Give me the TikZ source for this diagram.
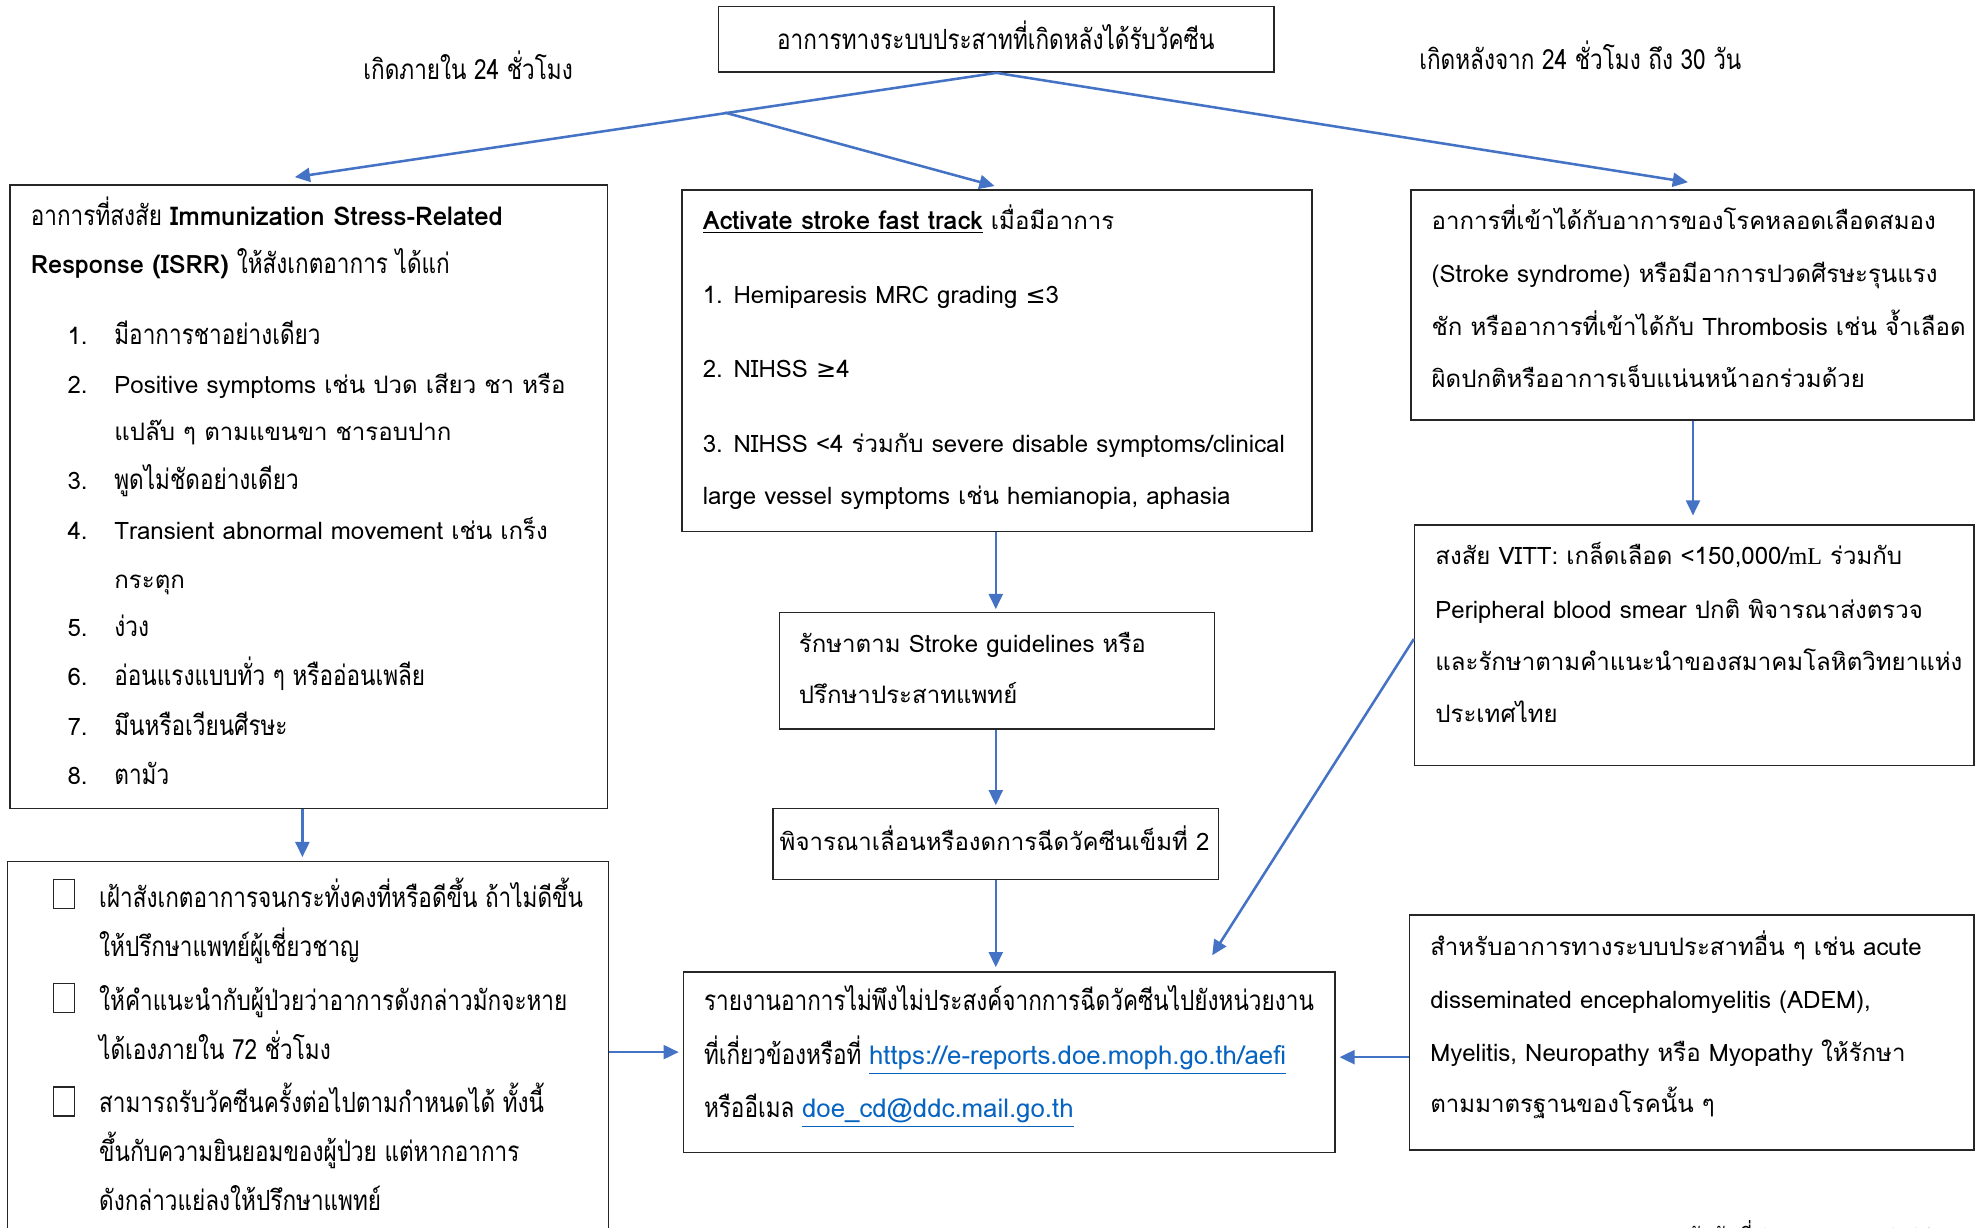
\documentclass[tikz,border=0pt]{standalone}
\usepackage{fontspec}
\setmainfont[Script=Thai]{Loma}
\newfontfamily\condfont[Script=Thai,FakeStretch=0.81]{Loma}
\newfontfamily\symfont{DejaVu Sans}
\newfontfamily\serfont{Liberation Serif}
\newcommand\cf{\condfont\fontsize{11}{13}\selectfont}
\newcommand\lk[1]{{\rmfamily\fontsize{10.2}{12}\selectfont\color{linkblue}\underline{#1}}}
\usetikzlibrary{arrows.meta,fit,calc}
\definecolor{arrblue}{HTML}{4472C4}
\definecolor{linkblue}{HTML}{0563C1}
\begin{document}
\begin{tikzpicture}[x=0.5pt,y=-0.5pt,
  box/.style={draw=black!85, line width=0.6pt, inner sep=0pt},
  tl/.style={anchor=base west, inner sep=0pt, font=\fontsize{9.5}{11}\selectfont},
  cl/.style={anchor=base west, inner sep=0pt, font=\cf},
  cc/.style={anchor=base, inner sep=0pt, font=\cf},
  chk/.style={draw=black!85, line width=0.5pt},
  arr/.style={draw=arrblue, line width=1pt, -{Triangle[length=6pt,width=5.5pt]}}]
\useasboundingbox (0,0) rectangle (1568,970);
\fill[white] (0,0) rectangle (1568,970);
\clip (0,0) rectangle (1568,970);

% ---------- boxes ----------
\node[box, fit={(568,5) (1007,57)}] (top) {};
\node[box, fit={(8,146) (480,639)}] (isrr) {};
\node[box, fit={(539,150) (1037,420)}] (fast) {};
\node[box, fit={(1115,150) (1560,332)}] (stroke) {};
\node[box, fit={(1118,415) (1560,605)}] (vitt) {};
\node[box, fit={(616,484) (960,576)}] (treat) {};
\node[box, fit={(611,639) (963,695)}] (delay) {};
\node[box, fit={(540,768) (1055,911)}] (report) {};
\node[box, fit={(1114,723) (1560,909)}] (other) {};
\node[box, fit={(6,681) (481,1010)}] (observe) {};

% ---------- top texts ----------
\node[cc] (toptxt) at (787,39) {อาการทางระบบประสาทที่เกิดหลังได้รับวัคซีน};
\node[cc] (lblL) at (370,63) {เกิดภายใน 24 ชั่วโมง};
\node[cc] (lblR) at (1249,55) {เกิดหลังจาก 24 ชั่วโมง ถึง 30 วัน};

% ---------- ISRR box ----------
\node[tl] (i1) at (24,178) {{\cf อาการที่สงสัย} {\fontsize{10.2}{12}\selectfont\textbf{Immunization Stress-Related}}};
\node[tl] (i2) at (24,216) {{\fontsize{10}{12}\selectfont\textbf{Response (ISRR)}} {\cf ให้สังเกตอาการ ได้แก่}};
\node[tl] (n1) at (53,272) {1.};
\node[cl] (t1) at (90,272) {มีอาการชาอย่างเดียว};
\node[tl] (n2) at (53,311) {2.};
\node[tl] (t2) at (90,311) {Positive symptoms เช่น ปวด เสียว ชา หรือ};
\node[tl] (t2b) at (90,348) {แปล๊บ ๆ ตามแขนขา ชารอบปาก};
\node[tl] (n3) at (53,387) {3.};
\node[cl] (t3) at (90,387) {พูดไม่ชัดอย่างเดียว};
\node[tl] (n4) at (53,426) {4.};
\node[tl] (t4) at (90,426) {Transient abnormal movement เช่น เกร็ง};
\node[tl] (t4b) at (90,465) {กระตุก};
\node[tl] (n5) at (53,503) {5.};
\node[cl] (t5) at (90,503) {ง่วง};
\node[tl] (n6) at (53,542) {6.};
\node[cl] (t6) at (90,542) {อ่อนแรงแบบทั่ว ๆ หรืออ่อนเพลีย};
\node[tl] (n7) at (53,581) {7.};
\node[cl] (t7) at (90,581) {มึนหรือเวียนศีรษะ};
\node[tl] (n8) at (53,620) {8.};
\node[cl] (t8) at (90,620) {ตามัว};

% ---------- fast track box ----------
\node[tl] (f1) at (555,181) {{\fontsize{10}{12}\selectfont\underline{\textbf{Activate stroke fast track}}} เมื่อมีอาการ};
\node[tl] (f2) at (555,240) {1. Hemiparesis MRC grading {\symfont ≤}3};
\node[tl] (f3) at (555,298) {2. NIHSS {\symfont ≥}4};
\node[tl] (f4) at (555,358) {3. NIHSS <4 ร่วมกับ severe disable symptoms/clinical};
\node[tl] (f5) at (555,399) {large vessel symptoms เช่น hemianopia, aphasia};

% ---------- stroke syndrome box ----------
\node[tl] (s1) at (1131,181) {อาการที่เข้าได้กับอาการของโรคหลอดเลือดสมอง};
\node[tl] (s2) at (1131,223) {(Stroke syndrome) หรือมีอาการปวดศีรษะรุนแรง};
\node[tl] (s3) at (1131,265) {ชัก หรืออาการที่เข้าได้กับ Thrombosis เช่น จ้ำเลือด};
\node[tl] (s4) at (1131,306) {ผิดปกติหรืออาการเจ็บแน่นหน้าอกร่วมด้วย};

% ---------- VITT box ----------
\node[tl] (v1) at (1134,446) {สงสัย VITT: เกล็ดเลือด <150,000/{\serfont mL} ร่วมกับ};
\node[tl] (v2) at (1134,489) {Peripheral blood smear ปกติ พิจารณาส่งตรวจ};
\node[tl] (v3) at (1134,530) {และรักษาตามคำแนะนำของสมาคมโลหิตวิทยาแห่ง};
\node[tl] (v4) at (1134,571) {ประเทศไทย};

% ---------- treat / delay ----------
\node[tl] (r1) at (631,516) {รักษาตาม Stroke guidelines หรือ};
\node[tl] (r2) at (631,556) {ปรึกษาประสาทแพทย์};
\node[tl, anchor=base] (d1) at (786,672) {พิจารณาเลื่อนหรืองดการฉีดวัคซีนเข็มที่ 2};

% ---------- report ----------
\node[cl] (p1) at (556,799) {รายงานอาการไม่พึงไม่ประสงค์จากการฉีดวัคซีนไปยังหน่วยงาน};
\node[cl] (p2) at (556,841) {ที่เกี่ยวข้องหรือที่ \lk{https://e-reports.doe.moph.go.th/aefi}};
\node[cl] (p3) at (556,883) {หรืออีเมล \lk{doe\_cd@ddc.mail.go.th}};

% ---------- other ----------
\node[tl] (o1) at (1130,755) {สำหรับอาการทางระบบประสาทอื่น ๆ เช่น acute};
\node[tl] (o2) at (1130,797) {disseminated encephalomyelitis (ADEM),};
\node[tl] (o3) at (1130,839) {Myelitis, Neuropathy หรือ Myopathy ให้รักษา};
\node[tl] (o4) at (1130,879) {ตามมาตรฐานของโรคนั้น ๆ};

% ---------- observe ----------
\draw[chk] (42,695) rectangle (59,718);
\draw[chk] (42,777) rectangle (59,800);
\draw[chk] (42,859) rectangle (59,882);
\node[cl] (c1) at (78,717) {เฝ้าสังเกตอาการจนกระทั่งคงที่หรือดีขึ้น ถ้าไม่ดีขึ้น};
\node[cl] (c2) at (78,756) {ให้ปรึกษาแพทย์ผู้เชี่ยวชาญ};
\node[cl] (c3) at (78,799) {ให้คำแนะนำกับผู้ป่วยว่าอาการดังกล่าวมักจะหาย};
\node[cl] (c4) at (78,837) {ได้เองภายใน 72 ชั่วโมง};
\node[cl] (c5) at (78,879) {สามารถรับวัคซีนครั้งต่อไปตามกำหนดได้ ทั้งนี้};
\node[cl] (c6) at (78,918) {ขึ้นกับความยินยอมของผู้ป่วย แต่หากอาการ};
\node[cl] (c7) at (78,957) {ดังกล่าวแย่ลงให้ปรึกษาแพทย์};

\node[cl, font=\condfont\fontsize{10}{12}\selectfont] (date) at (1322,985) {ฉบับวันที่ 25 พฤษภาคม 2564};

% ---------- connectors ----------
\coordinate (split) at (573,89);
\coordinate (endL) at (233,140);
\coordinate (endM) at (786,147);
\coordinate (endR) at (1334,144);
\coordinate (endV) at (958,755);
\coordinate (colL) at (239,0);
\coordinate (colM) at (787,0);
\coordinate (colR) at (1338,0);
\draw[arr] (top.south) -- (endL);
\draw[arr] (split) -- (endM);
\draw[arr] (top.south) -- (endR);
\draw[arr, shorten >=1pt] (colM |- fast.south) -- (colM |- treat.north);
\draw[arr, shorten >=1pt] (colM |- treat.south) -- (colM |- delay.north);
\draw[arr, shorten >=1.5pt] (colM |- delay.south) -- (colM |- report.north);
\draw[arr, shorten >=1.5pt] (colL |- isrr.south) -- (colL |- observe.north);
\draw[arr, shorten >=3.5pt] (colR |- stroke.south) -- (colR |- vitt.north);
\draw[arr] ([yshift=2.5pt]vitt.west) -- (endV);
\draw[arr, shorten >=1.5pt] ([yshift=4pt]report.west -| observe.east) -- ([yshift=4pt]report.west);
\draw[arr, shorten >=1.5pt] ([yshift=2pt]report.east -| other.west) -- ([yshift=2pt]report.east);
\end{tikzpicture}
\end{document}
